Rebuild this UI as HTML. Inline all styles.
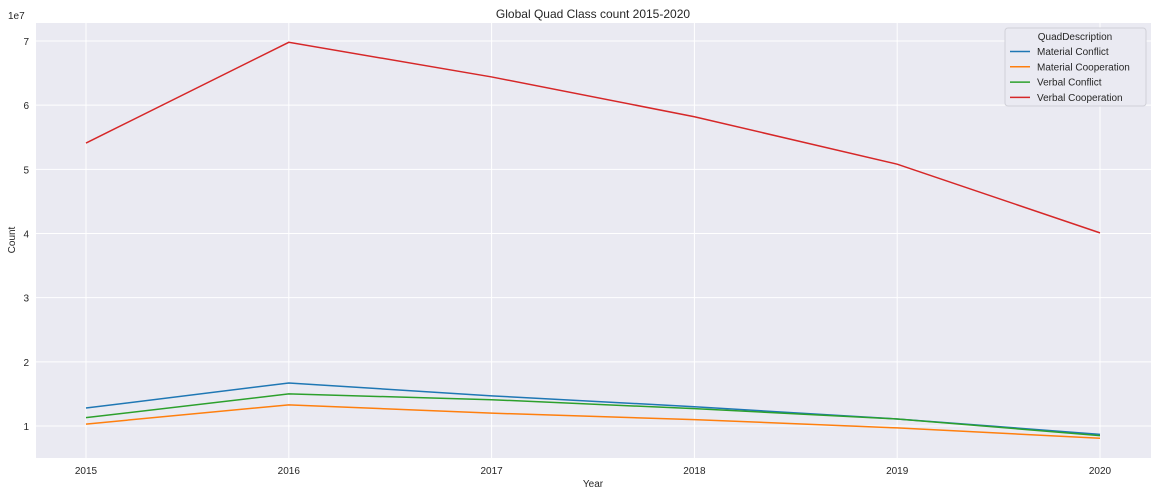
<!DOCTYPE html>
<html><head><meta charset="utf-8"><style>
body{margin:0;background:#fff;font-family:"Liberation Sans","DejaVu Sans",sans-serif}
svg text{font-family:"Liberation Sans","DejaVu Sans",sans-serif;fill:#262626}
</style></head><body>
<svg id="c" width="1157" height="496"></svg>
<script>
const years=[2015,2016,2017,2018,2019,2020];
const materialConflict=[1.28,1.67,1.47,1.30,1.11,0.87];
const materialCooperation=[1.03,1.33,1.20,1.10,0.97,0.81];
const verbalConflict=[1.13,1.50,1.41,1.27,1.11,0.85];
const verbalCooperation=[5.41,6.98,6.44,5.82,5.08,4.01];
const yTicks=[1,2,3,4,5,6,7];
const seriesNames=["Material Conflict","Material Cooperation","Verbal Conflict","Verbal Cooperation"];
const colors=["#1f77b4","#ff7f0e","#2ca02c","#d62728"];
const series=[materialConflict,materialCooperation,verbalConflict,verbalCooperation];
const L=36,R=1151,T=23,B=458;
const x=v=>86+(v-2015)*(1100-86)/5;
const y=v=>426-(v-1)*(426-41)/6;
const svg=document.getElementById('c');const NS='http://www.w3.org/2000/svg';
function el(t,a,p){const e=document.createElementNS(NS,t);for(const k in a)e.setAttribute(k,a[k]);(p||svg).appendChild(e);return e;}
const bg=el('rect',{x:L,y:T,width:R-L,height:B-T,fill:'#eaeaf2'});


yTicks.forEach(t=>{
 const g=el('line',{x1:L,x2:R,y1:y(t),y2:y(t),stroke:'#fff','stroke-width':1});
 
 
 const tx=el('text',{x:L-7,y:y(t)+4,'text-anchor':'end','font-size':10});tx.textContent=t;
 
 
});
years.forEach(v=>{
 const g=el('line',{x1:x(v),x2:x(v),y1:T,y2:B,stroke:'#fff','stroke-width':1});
 
 
 const tx=el('text',{x:x(v),y:B+16,'text-anchor':'middle','font-size':10});tx.textContent=v;
 
 
});
series.forEach((s,i)=>{
 const p=el('polyline',{points:s.map((v,j)=>x(years[j])+','+y(v)).join(' '),fill:'none',stroke:colors[i],'stroke-width':1.5});
 
 
});
const ex=el('text',{x:8,y:19,'font-size':10});ex.textContent='1e7';


const ti=el('text',{x:593,y:18,'text-anchor':'middle','font-size':12});ti.textContent='Global Quad Class count 2015-2020';


const xt=el('text',{x:593,y:487,'text-anchor':'middle','font-size':10});xt.textContent='Year';


const yt=el('text',{x:15,y:240,'text-anchor':'middle','font-size':10,transform:'rotate(-90 15 240)'});yt.textContent='Count';


const lg=el('g',{});


el('rect',{x:1005,y:28,width:141,height:78,rx:3,fill:'#eaeaf2',stroke:'#d0d0d8'},lg);
const lt=el('text',{x:1075,y:40,'text-anchor':'middle','font-size':10},lg);lt.textContent='QuadDescription';
seriesNames.forEach((n,i)=>{
 const yy=55+i*15.3;
 const e=el('g',{},lg);
 
 
 el('line',{x1:1010,x2:1030,y1:yy-3.5,y2:yy-3.5,stroke:colors[i],'stroke-width':1.5},e);
 const t=el('text',{x:1037,y:yy,'font-size':10},e);t.textContent=n;
});
</script>
</body></html>
